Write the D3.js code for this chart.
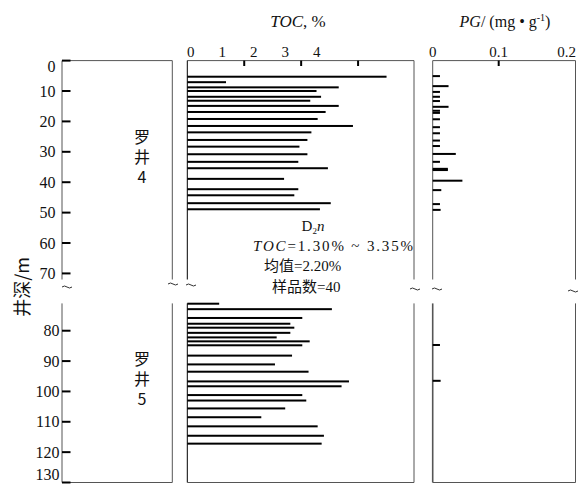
<!DOCTYPE html>
<html><head><meta charset="utf-8">
<script src="https://cdn.jsdelivr.net/npm/d3@7/dist/d3.min.js"></script>
<style>
html,body{margin:0;padding:0;background:#fff;}
text{font-family:"Liberation Serif","DejaVu Serif",serif;fill:#111;}
.cjk{font-family:"Noto Sans CJK SC",sans-serif;}
.vert{font-family:"Noto Sans CJK SC",sans-serif;writing-mode:vertical-rl;text-orientation:upright;letter-spacing:4px;}
</style></head>
<body><svg id="c" width="578" height="485"></svg>
<script>
// ---- data ----
const depthTicksTop = [0,10,20,30,40,50,60,70];
const depthTicksBottom = [80,90,100,110,120,130];
const tocTickLabels = ["0","1","2","3","4"];
const tocTickMarks = [1,2,3];
const pgTickLabels = ["0","0.1","0.2"];
const pgTickValues = [0,0.1,0.2];
const pgTickMarks = [0.1];
const wellNames = ["罗井4","罗井5"];

// 罗井4 TOC (%)
const well4TocDepth = [5.3,7.1,8.8,10.0,11.9,13.2,14.9,16.9,19.2,21.5,23.6,26.1,28.3,30.8,33.3,35.4,38.9,42.3,44.3,46.9,48.9];
const well4Toc      = [3.50,0.68,2.66,2.27,2.35,2.16,2.66,2.43,2.29,2.91,2.18,2.11,1.97,2.11,1.95,2.47,1.70,1.95,1.88,2.52,2.33];
// 罗井5 TOC (%)
const well5TocDepth = [71.1,72.9,75.8,77.7,79.0,80.7,82.2,83.5,84.8,88.2,91.1,93.5,96.7,98.3,101.2,103.0,105.6,108.5,111.5,114.6,117.2];
const well5Toc      = [0.56,2.54,2.02,1.81,1.88,1.81,1.57,2.15,2.02,1.84,1.54,2.13,2.84,2.71,2.02,2.09,1.72,1.30,2.29,2.40,2.36];
// 罗井4 PG (mg/g)
const well4PgDepth = [5.1,8.4,10.3,11.9,13.3,15.2,16.5,17.2,19.3,21.9,23.9,26.3,28.1,30.7,33.3,35.6,36.0,39.5,42.6,47.2,49.1];
const well4Pg      = [0.011,0.024,0.011,0.011,0.011,0.024,0.011,0.011,0.011,0.011,0.011,0.011,0.011,0.035,0.011,0.023,0.023,0.045,0.013,0.011,0.012];
// 罗井5 PG (mg/g)
const well5PgDepth = [84.7,96.5];
const well5Pg      = [0.011,0.012];

// ---- layout ----
const svg = d3.select("#c");
const yTop = d3.scaleLinear().domain([0,72]).range([60.6,279.5]);
const yBot = d3.scaleLinear().domain([71,130]).range([303.4,482.5]);
const xToc = d3.scaleLinear().domain([0,4]).range([187.3,415]);
const xTocLabel = d3.scaleLinear().domain([0,4]).range([190.7,316.7]);
const xPg = d3.scaleLinear().domain([0,0.1]).range([432.7,498.7]);
const panels = [[62,172.3],[187.3,414],[432.7,575.5]];
const frameCol = "#555";

// frames
panels.forEach((p,i)=>{
  const g = svg.append("g");
  const lc = i===1 ? "#000" : frameCol;
  g.append("line").attr("x1",p[0]).attr("x2",p[1]).attr("y1",yTop.range()[0]).attr("y2",yTop.range()[0]).attr("stroke",frameCol);
  g.append("line").attr("x1",p[0]).attr("x2",p[0]).attr("y1",yTop.range()[0]).attr("y2",yTop.range()[1]).attr("stroke",lc);
  g.append("line").attr("x1",p[1]).attr("x2",p[1]).attr("y1",yTop.range()[0]).attr("y2",yTop.range()[1]).attr("stroke",frameCol);
  g.append("line").attr("x1",p[0]).attr("x2",p[0]).attr("y1",yBot.range()[0]).attr("y2",yBot.range()[1]).attr("stroke",lc).attr("stroke-width", i===2?1.6:1);
  g.append("line").attr("x1",p[1]).attr("x2",p[1]).attr("y1",yBot.range()[0]).attr("y2",yBot.range()[1]).attr("stroke",frameCol);
  g.append("line").attr("x1",p[0]).attr("x2",p[1]).attr("y1",yBot.range()[1]).attr("y2",yBot.range()[1]).attr("stroke",frameCol);
});

// depth axis ticks and labels
function depthAxis(ticks, y, labelRight){
  ticks.forEach(t=>{
    svg.append("line").attr("x1",62).attr("x2",70.5).attr("y1",y(t)).attr("y2",y(t)).attr("stroke","#000").attr("stroke-width",2);
    svg.append("text").attr("x",labelRight).attr("y",Math.min(Math.max(y(t),66.5),474)).attr("dy","0.35em")
      .attr("text-anchor","end").attr("font-size",16).text(t);
  });
}
depthAxis(depthTicksTop, yTop, 55.5);
depthAxis(depthTicksBottom, yBot, 59.5);

// y title
svg.append("text").attr("class","cjk").attr("transform","translate(23,287) rotate(-90)")
  .attr("text-anchor","middle").attr("dy","0.35em").attr("font-size",18)
  .text("井深/m");

// top axes
tocTickLabels.forEach((l,i)=>{
  svg.append("text").attr("x",xTocLabel(i)).attr("y",57).attr("text-anchor","middle").attr("font-size",15).text(l);
});
tocTickMarks.forEach(v=>{
  svg.append("line").attr("x1",xToc(v)).attr("x2",xToc(v)).attr("y1",60.6).attr("y2",66).attr("stroke","#000").attr("stroke-width",2);
});
pgTickLabels.forEach((l,i)=>{
  svg.append("text").attr("x",xPg(pgTickValues[i])+(i===2?2:0)).attr("y",57).attr("text-anchor","middle").attr("font-size",15).text(l);
});
pgTickMarks.forEach(v=>{
  svg.append("line").attr("x1",xPg(v)).attr("x2",xPg(v)).attr("y1",60.6).attr("y2",66).attr("stroke","#000").attr("stroke-width",2);
});

// titles
const t1 = svg.append("text").attr("x",298).attr("y",27).attr("text-anchor","middle").attr("font-size",17);
t1.append("tspan").attr("font-style","italic").text("TOC");
t1.append("tspan").text(", %");
const t2 = svg.append("text").attr("x",505).attr("y",27).attr("text-anchor","middle").attr("font-size",16);
t2.append("tspan").attr("font-style","italic").text("PG");
t2.append("tspan").text("/ (mg • g");
t2.append("tspan").attr("font-size",10).attr("dy",-6).text("-1");
t2.append("tspan").attr("dy",6).text(")");

// bars
function bars(depths, vals, y, x){
  svg.append("g").selectAll("rect").data(depths).join("rect")
    .attr("x",x(0)).attr("y",d=>y(d)-1).attr("height",2)
    .attr("width",(d,i)=>x(vals[i])-x(0)).attr("fill","#000");
}
bars(well4TocDepth, well4Toc, yTop, xToc);
bars(well5TocDepth, well5Toc, yBot, xToc);
bars(well4PgDepth, well4Pg, yTop, xPg);
bars(well5PgDepth, well5Pg, yBot, xPg);

// well names (vertical text)
svg.append("text").attr("class","vert").attr("x",142).attr("y",159).attr("text-anchor","middle").attr("font-size",16).text(wellNames[0]);
svg.append("text").attr("class","vert").attr("x",142).attr("y",381).attr("text-anchor","middle").attr("font-size",16).text(wellNames[1]);

// annotation
const a1 = svg.append("text").attr("x",313).attr("y",231).attr("text-anchor","middle").attr("font-size",15);
a1.append("tspan").text("D");
a1.append("tspan").attr("font-size",9).attr("dy",3).text("2");
a1.append("tspan").attr("dy",-3).attr("font-style","italic").text("n");
const a2 = svg.append("text").attr("x",253).attr("y",251).attr("font-size",15)
  .attr("textLength",160).attr("lengthAdjust","spacing");
a2.append("tspan").attr("font-style","italic").text("TOC");
a2.append("tspan").text("=1.30% ~ 3.35%");
const a3 = svg.append("text").attr("x",264).attr("y",271).attr("font-size",15);
a3.append("tspan").attr("class","cjk").text("均值");
a3.append("tspan").text("=2.20%");
const a4 = svg.append("text").attr("x",272).attr("y",292).attr("font-size",15);
a4.append("tspan").attr("class","cjk").text("样品数");
a4.append("tspan").text("=40");

// break marks
const breaks = [[67,288],[173,285],[191,286],[415,290],[437,290],[573,292]];
breaks.forEach(b=>{
  svg.append("path").attr("d",`M${b[0]-5},${b[1]-1} q2.5,-2 5,0 t5,0`).attr("fill","none").attr("stroke","#333").attr("stroke-width",1);
});
</script></body></html>
